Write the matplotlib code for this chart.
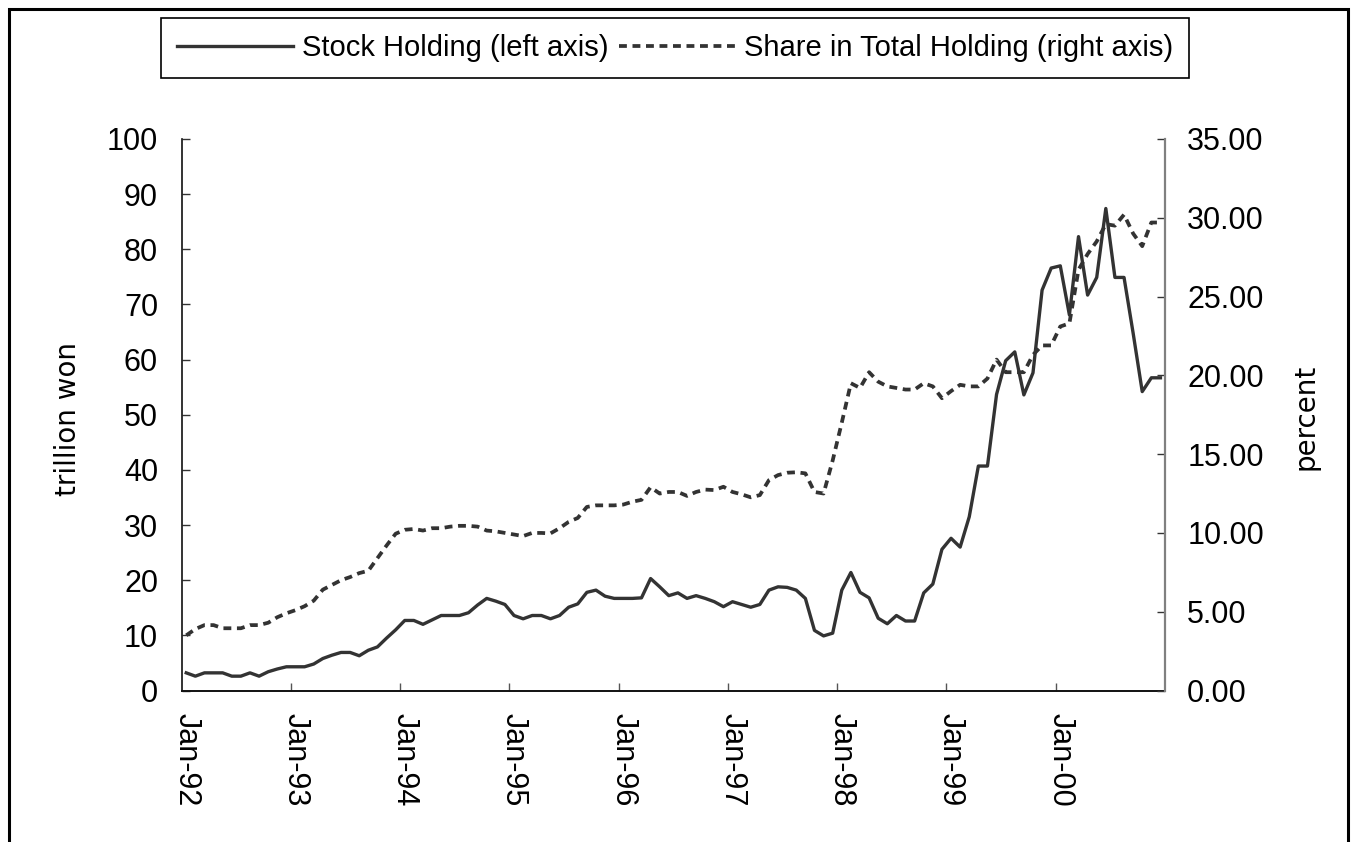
import matplotlib
matplotlib.use('Agg')
import matplotlib.pyplot as plt
from matplotlib.patches import Rectangle
import numpy as np

# ---------------- data (monthly, Jan-92 .. Dec-00) ----------------
stock_holding = [3.2, 2.6, 3.2, 3.2, 3.2, 2.6, 2.6, 3.2, 2.6, 3.4, 3.9, 4.3,
                 4.3, 4.3, 4.8, 5.8, 6.4, 6.9, 6.9, 6.3, 7.3, 7.9, 9.5, 11.0,
                 12.7, 12.7, 12.0, 12.8, 13.6, 13.6, 13.6, 14.1, 15.5, 16.7, 16.2, 15.6,
                 13.6, 13.0, 13.6, 13.6, 13.0, 13.6, 15.1, 15.7, 17.8, 18.2, 17.1, 16.7,
                 16.7, 16.7, 16.8, 20.3, 18.8, 17.2, 17.7, 16.7, 17.2, 16.7, 16.1, 15.2,
                 16.1, 15.6, 15.1, 15.6, 18.2, 18.8, 18.7, 18.2, 16.7, 10.9, 9.9, 10.4,
                 18.2, 21.4, 17.8, 16.8, 13.1, 12.1, 13.6, 12.6, 12.6, 17.7, 19.3, 25.6,
                 27.6, 26.0, 31.5, 40.7, 40.7, 53.7, 59.8, 61.4, 53.6, 57.6, 72.6, 76.6,
                 77.0, 68.1, 82.3, 71.7, 74.9, 87.4, 74.9, 74.9, 64.8, 54.2, 56.7, 56.7]

share_total = [3.5, 3.9, 4.15, 4.15, 3.95, 3.95, 3.95, 4.15, 4.15, 4.3, 4.65, 4.9,
               5.1, 5.35, 5.7, 6.4, 6.7, 7.0, 7.2, 7.45, 7.6, 8.4, 9.2, 9.95,
               10.2, 10.25, 10.15, 10.3, 10.3, 10.4, 10.45, 10.45, 10.4, 10.15, 10.1, 10.0,
               9.9, 9.8, 10.0, 10.0, 9.97, 10.3, 10.7, 10.95, 11.65, 11.75, 11.75, 11.75,
               11.8, 11.98, 12.1, 12.9, 12.5, 12.6, 12.6, 12.35, 12.6, 12.75, 12.72, 12.93,
               12.6, 12.45, 12.26, 12.4, 13.35, 13.67, 13.82, 13.85, 13.78, 12.6, 12.5, 14.6,
               17.0, 19.5, 19.2, 20.2, 19.6, 19.3, 19.2, 19.1, 19.1, 19.5, 19.3, 18.55,
               19.0, 19.4, 19.3, 19.3, 19.8, 21.0, 20.2, 20.2, 20.2, 21.3, 21.9, 21.9,
               23.1, 23.3, 26.7, 27.7, 28.5, 29.6, 29.5, 30.2, 29.0, 28.2, 29.7, 29.7]

x_labels = ['Jan-92', 'Jan-93', 'Jan-94', 'Jan-95', 'Jan-96',
            'Jan-97', 'Jan-98', 'Jan-99', 'Jan-00']
series_names = ['Stock Holding (left axis)', 'Share in Total Holding (right axis)']
left_label = 'trillion won'
right_label = 'percent'

# ---------------- figure ----------------
plt.rcParams['font.family'] = ['Liberation Sans', 'DejaVu Sans']
W, H = 1353, 842
fig = plt.figure(figsize=(W / 100, H / 100), dpi=100)
fig.patch.set_facecolor('white')

ax_l, ax_r, ax_t, ax_b = 181.7, 1165.0, 139.0, 690.5
ax = fig.add_axes([ax_l / W, 1 - ax_b / H, (ax_r - ax_l) / W, (ax_b - ax_t) / H])
ax2 = ax.twinx()

n = len(stock_holding)
x = np.arange(n)
col = '#333333'
l1, = ax.plot(x, stock_holding, color=col, lw=2.4)
l2, = ax2.plot(x, share_total, color=col, lw=2.7, dashes=(2.1, 1.5))

ax.set_xlim(-0.5, n - 0.5)
ax.set_ylim(0, 100)
ax2.set_ylim(0, 35)
ax.set_yticks(np.arange(0, 101, 10))
ax2.set_yticks(np.arange(0, 36, 5))
ax2.set_yticklabels([f'{v:.2f}' for v in np.arange(0, 36, 5)])

for s in ['top', 'right']:
    ax.spines[s].set_visible(False)
for s in ['top', 'left', 'bottom']:
    ax2.spines[s].set_visible(False)
ax.spines['left'].set_color('#111111')
ax.spines['bottom'].set_color('#111111')
ax.spines['left'].set_linewidth(1.2)
ax.spines['bottom'].set_linewidth(1.4)
ax2.spines['right'].set_color('#808080')
ax2.spines['right'].set_linewidth(1.6)

ax.tick_params(axis='y', direction='in', length=6, width=1, labelsize=22, pad=17,
               color='#333333')
ax2.tick_params(axis='y', direction='in', length=6, width=1, labelsize=22, pad=16,
                color='#333333')

ax.set_xticks(np.arange(11.5, n - 1, 12))
ax.set_xticks(np.arange(0, n, 12), minor=True)
ax.set_xticklabels(x_labels, minor=True, rotation=270)
ax.tick_params(axis='x', which='major', direction='in', length=6, width=1,
               labelbottom=False, color='#555555')
ax.tick_params(axis='x', which='minor', length=0, labelsize=22, pad=16)

fig.text(68 / W, 1 - 419 / H, left_label, rotation=90, ha='center', va='center',
         fontsize=20, family='DejaVu Sans')
fig.text(1305 / W, 1 - 417 / H, right_label, rotation=90, ha='center', va='center',
         fontsize=20, family='DejaVu Sans')

leg = fig.legend([l1, l2], series_names, loc='center',
                 bbox_to_anchor=(675 / W, 1 - 48 / H), ncol=2, fontsize=21,
                 frameon=True, fancybox=False, edgecolor='black', framealpha=1,
                 handlelength=4.0, handletextpad=0.3, columnspacing=0.35,
                 borderpad=0.55, borderaxespad=0)
leg.get_frame().set_linewidth(1.2)

fig.add_artist(Rectangle((8.5 / W, -0.02), (1347.5 - 8.5) / W, 1 - 8.5 / H + 0.02,
                         transform=fig.transFigure, fill=False, lw=2.2,
                         edgecolor='black'))

fig.savefig('out.png', dpi=100)
